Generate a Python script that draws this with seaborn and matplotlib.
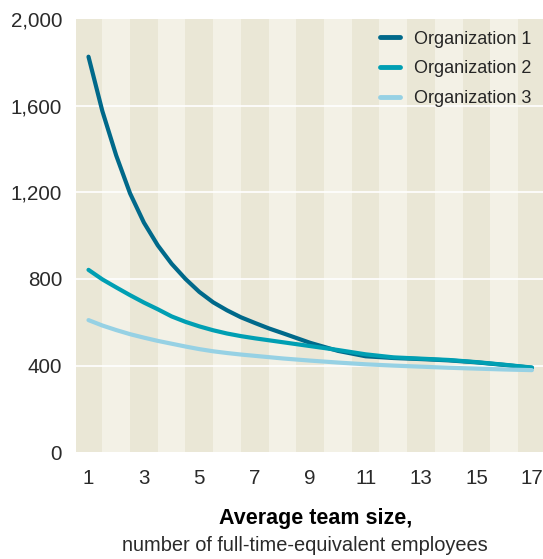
import pandas as pd
import matplotlib
matplotlib.use("Agg")
import matplotlib.pyplot as plt
import seaborn as sns

# values (half steps where the curves bend most)
team_size = [1, 1.5, 2, 2.5, 3, 3.5, 4, 4.5, 5, 5.5, 6, 6.5, 7, 7.5, 8,
             9, 10, 11, 12, 13, 14, 15, 16, 17]
org1 = [1826, 1575, 1370, 1195, 1060, 955, 870, 800, 740, 692, 655, 623, 597, 572, 550,
        505, 468, 443, 435, 430, 424, 415, 403, 390]
org2 = [842, 798, 761, 725, 691, 660, 627, 602, 581, 563, 548, 536, 526, 517, 508,
        490, 472, 452, 438, 432, 426, 416, 404, 391]
org3 = [610, 585, 564, 545, 529, 514, 501, 488, 476, 466, 458, 451, 445, 439, 433,
        423, 414, 406, 400, 395, 390, 386, 382, 379]
series_names = ["Organization 1", "Organization 2", "Organization 3"]
x_ticks = [1, 3, 5, 7, 9, 11, 13, 15, 17]
y_ticks = [0, 400, 800, 1200, 1600, 2000]

colors = ["#00698a", "#009fb3", "#96d1e4"]
dark_band = "#eae7d6"
light_band = "#f3f1e6"

n = len(team_size)
df = pd.DataFrame({
    "size": team_size * 3,
    "value": org1 + org2 + org3,
    "org": [series_names[0]] * n + [series_names[1]] * n + [series_names[2]] * n,
})

sns.set_style("white")
plt.rcParams["font.family"] = ["Liberation Sans", "DejaVu Sans"]

fig = plt.figure(figsize=(5.43, 5.59), dpi=100)
ax = fig.add_axes([0.14, 0.191, 0.86, 0.775])
ax.set_facecolor(light_band)

# vertical stripes behind each odd team size
for k in range(1, 18, 2):
    ax.axvspan(k - 0.5, k + 0.5, color=dark_band, lw=0, zorder=0)

for y in y_ticks[1:-1]:
    ax.axhline(y, color="white", lw=1.2, zorder=1)

sns.lineplot(data=df, x="size", y="value", hue="org", palette=colors,
             linewidth=3, ax=ax, zorder=3, legend=True)
for ln in ax.get_lines()[-3:]:
    ln.set_solid_joinstyle("round")
    ln.set_solid_capstyle("round")

ax.set_xlim(0.55, 17.4)
ax.set_ylim(0, 2000)
ax.set_xticks(x_ticks)
ax.set_yticks(y_ticks)
ax.set_yticklabels([f"{v:,}" for v in y_ticks])
ax.tick_params(axis="both", length=0, labelsize=14.8, colors="#2a2a2a")
ax.tick_params(axis="y", pad=10)
ax.tick_params(axis="x", pad=12)
ax.set_xlabel("")
ax.set_ylabel("")
for s in ax.spines.values():
    s.set_visible(False)

leg = ax.legend(loc="upper right", frameon=False, fontsize=13, handlelength=1.1,
                handletextpad=0.75, labelspacing=0.7, borderaxespad=0.25)
for h in leg.get_lines():
    h.set_linewidth(3.5)

fig.text(0.582, 0.072, "Average team size,", ha="center", va="center",
         fontsize=15.5, fontweight="bold", color="black")
fig.text(0.562, 0.025, "number of full-time-equivalent employees", ha="center",
         va="center", fontsize=14.4, color="#2a2a2a")

fig.savefig("out.png", dpi=100)
